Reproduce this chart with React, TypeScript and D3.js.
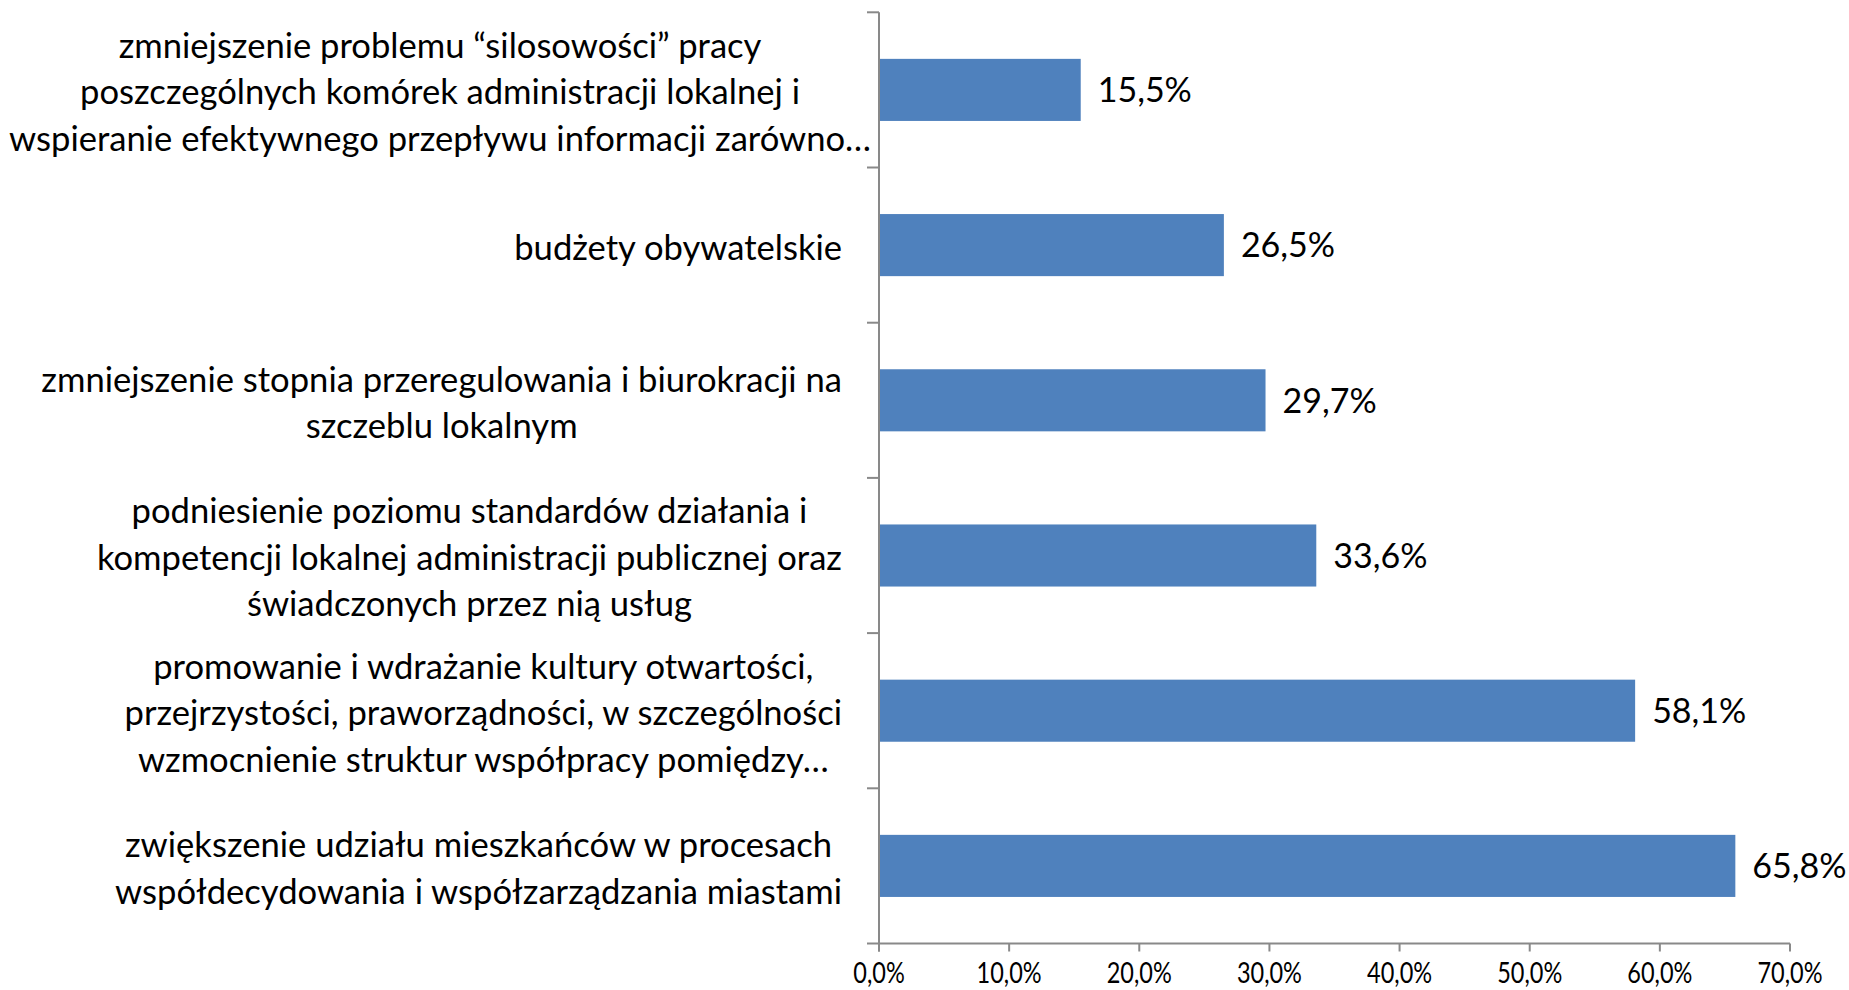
import React, { useEffect, useRef } from 'react';
import * as d3 from 'd3';

// categories, top to bottom, already wrapped into lines like the original
const categoryLines: string[][] = [
  ['zmniejszenie problemu “silosowości” pracy', 'poszczególnych komórek administracji lokalnej i', 'wspieranie efektywnego przepływu informacji zarówno…'],
  ['budżety obywatelskie'],
  ['zmniejszenie stopnia przeregulowania i biurokracji na', 'szczeblu lokalnym'],
  ['podniesienie poziomu standardów działania i', 'kompetencji lokalnej administracji publicznej oraz', 'świadczonych przez nią usług'],
  ['promowanie i wdrażanie kultury otwartości,', 'przejrzystości, praworządności, w szczególności', 'wzmocnienie struktur współpracy pomiędzy…'],
  ['zwiększenie udziału mieszkańców w procesach', 'współdecydowania i współzarządzania miastami'],
];
const values = [15.5, 26.5, 29.7, 33.6, 58.1, 65.8];
const xTicks = [0, 10, 20, 30, 40, 50, 60, 70];

const pct = (v: number) => d3.format('.1f')(v).replace('.', ',') + '%';

const App = () => {
  const ref = useRef<SVGSVGElement>(null);

  useEffect(() => {
    const width = 1849;
    const height = 990;
    const margin = { top: 12.3, left: 879, right: 59, bottom: 46.5 };
    const font = 'Lato, "Open Sans", sans-serif';
    const axisColor = '#898989';

    const svg = d3.select(ref.current);
    svg.selectAll('*').remove();

    const x = d3.scaleLinear()
      .domain([0, 70])
      .range([margin.left, width - margin.right]);

    const y = d3.scaleBand<number>()
      .domain(values.map((_, i) => i))
      .range([margin.top, height - margin.bottom])
      .paddingInner(0.6)
      .paddingOuter(0.3);

    const step = y.step();
    const top = margin.top;
    const bottom = height - margin.bottom;

    // bars
    svg.append('g')
      .selectAll('rect')
      .data(values)
      .enter()
      .append('rect')
      .attr('x', x(0))
      .attr('y', (d, i) => y(i)!)
      .attr('width', d => x(d) - x(0))
      .attr('height', y.bandwidth())
      .attr('fill', '#4f81bd');

    // value labels
    svg.append('g')
      .selectAll('text')
      .data(values)
      .enter()
      .append('text')
      .attr('x', d => x(d) + 17)
      .attr('y', (d, i) => y(i)! + y.bandwidth() / 2)
      .attr('dy', '0.36em')
      .attr('font-family', font)
      .attr('font-size', 34)
      .attr('fill', '#000')
      .text(d => pct(d));

    // axes
    const ax = svg.append('g').attr('stroke', axisColor).attr('stroke-width', 2);
    ax.append('line')
      .attr('x1', x(0)).attr('x2', x(0))
      .attr('y1', top).attr('y2', bottom + 8);
    ax.append('line')
      .attr('x1', x(0) - 12).attr('x2', x(70))
      .attr('y1', bottom).attr('y2', bottom);
    d3.range(categoryLines.length).forEach(k => {
      ax.append('line')
        .attr('x1', x(0) - 12).attr('x2', x(0))
        .attr('y1', top + k * step).attr('y2', top + k * step);
    });
    xTicks.forEach(t => {
      ax.append('line')
        .attr('x1', x(t)).attr('x2', x(t))
        .attr('y1', bottom).attr('y2', bottom + 8);
    });

    // x tick labels (the original is squeezed horizontally)
    svg.append('g')
      .selectAll('text')
      .data(xTicks)
      .enter()
      .append('text')
      .attr('transform', d => `translate(${x(d)},${983}) scale(0.84,1)`)
      .attr('text-anchor', 'middle')
      .attr('font-family', font)
      .attr('font-size', 28)
      .attr('fill', '#000')
      .text(d => pct(d));

    // category labels, centred blocks right-aligned to the axis
    const lineH = 46.5;
    const rightEdge = 842;
    categoryLines.forEach((lines, i) => {
      const cy = y(i)! + y.bandwidth() / 2 + 2;
      const g = svg.append('g');
      const texts = g.selectAll('text')
        .data(lines)
        .enter()
        .append('text')
        .attr('x', 0)
        .attr('y', (d, j) => cy + (j - (lines.length - 1) / 2) * lineH)
        .attr('dy', '0.36em')
        .attr('text-anchor', 'middle')
        .attr('font-family', font)
        .attr('font-size', 34.6)
        .attr('fill', '#000')
        .text(d => d);
      let w = 0;
      texts.each(function () {
        w = Math.max(w, (this as SVGTextElement).getComputedTextLength());
      });
      const cx = Math.max(rightEdge - w / 2, 9 + w / 2);
      g.attr('transform', `translate(${cx},0)`);
    });
  }, []);

  return (
    <svg
      ref={ref}
      width={1849}
      height={990}
      style={{ position: 'absolute', left: 0, top: 0, background: '#fff' }}
    />
  );
};

export default App;
